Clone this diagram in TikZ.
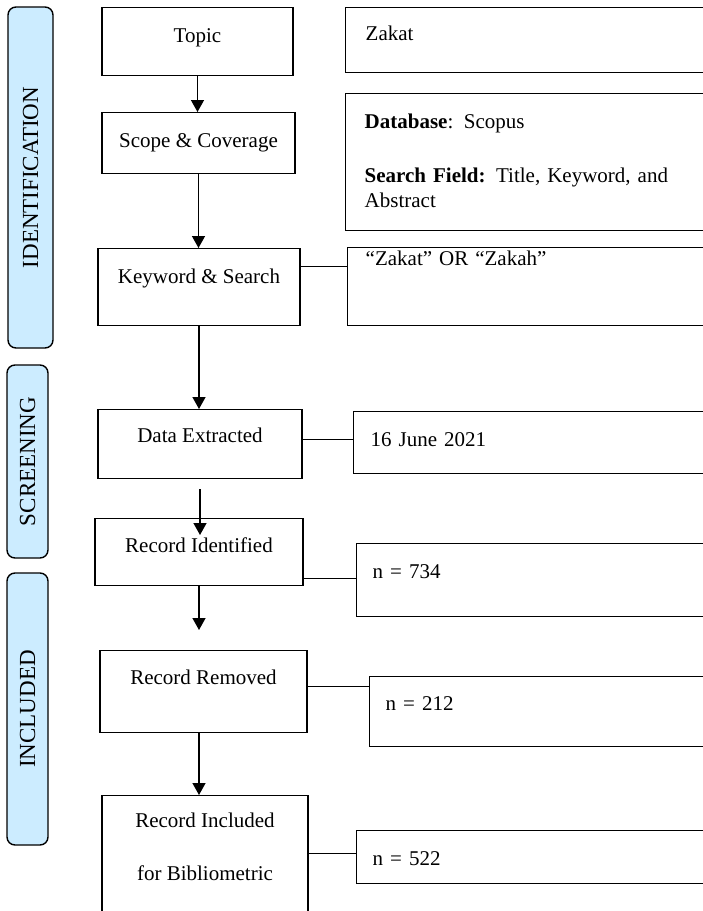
\documentclass[tikz,border=0pt]{standalone}
\usepackage{fontspec}
\setmainfont{Liberation Serif}
\usetikzlibrary{arrows.meta}
\definecolor{bandblue}{RGB}{204,236,255}

\begin{document}
\begin{tikzpicture}[x=1pt,y=-1pt,
    stage/.style={draw, line width=1.4pt, anchor=north, inner ysep=0pt, font=\fontsize{21}{25}\selectfont},
    info/.style={draw, line width=1.4pt, anchor=north west, inner ysep=0pt, inner xsep=16pt, text width=340pt, align=left, font=\fontsize{21}{25}\selectfont},
    band/.style={draw, line width=1.4pt, fill=bandblue, rounded corners=8pt, rotate=90, inner sep=0pt, font=\fontsize{23}{27}\selectfont},
    flow/.style={line width=1.4pt, -{Triangle[width=13pt,length=12pt]}},
    link/.style={line width=1.4pt}]
    \useasboundingbox (0,0) rectangle (703,911);

    \node[band, minimum width=341pt, minimum height=45pt] (identification) at (30.5,177.5) {IDENTIFICATION};
    \node[band, minimum width=193pt, minimum height=41pt] (screening) at (27.5,461.5) {SCREENING};
    \node[band, minimum width=272pt, minimum height=41pt] (includedband) at (27.5,709) {INCLUDED};

    \node[stage, minimum width=191pt, text height=35pt, text depth=33pt] (topic) at (197.5,7) {Topic};
    \node[stage, minimum width=193pt, text height=35pt, text depth=26pt] (scope) at (198.5,112) {Scope \& Coverage};
    \node[stage, minimum width=202pt, text height=35pt, text depth=42pt] (keyword) at (199,248) {Keyword \& Search};
    \node[stage, minimum width=204pt, text height=33pt, text depth=36pt] (data) at (200,409) {Data Extracted};
    \node[stage, minimum width=208pt, text height=34pt, text depth=33pt] (identified) at (199,518) {Record Identified};
    \node[stage, minimum width=207pt, text height=34pt, text depth=48pt] (removed) at (203.5,650) {Record Removed};
    \node[stage, minimum width=206pt, align=center, text height=85pt, text depth=45pt] (included) at (205,795) {Record Included\\[28pt]for Bibliometric};

    \node[info, inner xsep=20pt, text height=33pt, text depth=32pt] (zakat) at (345,7) {Zakat};
    \node[info, inner xsep=19pt, text height=35pt, text depth=102pt] (database) at (345,93) {\textbf{Database}: Scopus\\[29pt]\textbf{Search Field:} Title, Keyword, and\\Abstract};
    \node[info, inner xsep=18pt, text height=18pt, text depth=60pt] (terms) at (347,247) {``Zakat'' OR ``Zakah''};
    \node[info, inner xsep=17pt, text height=35pt, text depth=27pt] (date) at (353,411) {16 June 2021};
    \node[info, text height=35pt, text depth=38pt] (n734) at (356,543) {n = 734};
    \node[info, text height=34pt, text depth=36pt] (n212) at (369,676) {n = 212};
    \node[info, text height=35pt, text depth=18pt] (n522) at (356,830) {n = 522};

    \draw[flow] (topic.south) -- (topic.south |- scope.north);
    \draw[flow] (scope.south) -- (scope.south |- keyword.north);
    \draw[flow] (keyword.south) -- (keyword.south |- data.north);
    \draw[flow, shorten <=10pt, shorten >=-17pt] (data.south) -- (data.south |- identified.north);
    \draw[flow, shorten >=20pt] (identified.south) -- (identified.south |- removed.north);
    \draw[flow] ([xshift=-4.5pt]removed.south) -- ([xshift=-4.5pt]removed.south |- included.north);

    \draw[link] ([yshift=20.5pt]keyword.east) -- ([yshift=20.5pt]keyword.east -| terms.west);
    \draw[link] ([yshift=4.5pt]data.east) -- ([yshift=4.5pt]data.east -| date.west);
    \draw[link] ([yshift=-26.5pt]identified.east) -- ([yshift=-26.5pt]identified.east -| n734.west);
    \draw[link] ([yshift=5pt]removed.east) -- ([yshift=5pt]removed.east -| n212.west);
    \draw[link] ([yshift=7pt]included.east) -- ([yshift=7pt]included.east -| n522.west);
\end{tikzpicture}
\end{document}
